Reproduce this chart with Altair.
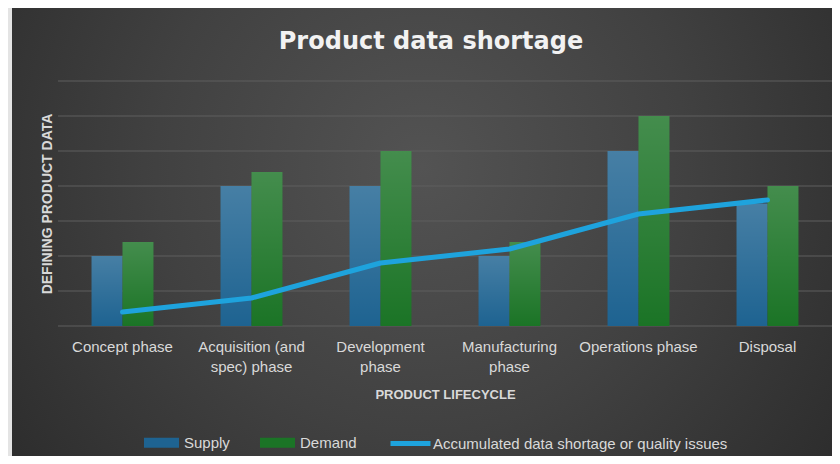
import altair as alt
import pandas as pd

# ---- data ----
categories = ["Concept phase", "Acquisition (and spec) phase", "Development phase",
              "Manufacturing phase", "Operations phase", "Disposal"]
supply = [2, 4, 4, 2, 5, 3.5]
demand = [2.4, 4.4, 5, 2.4, 6, 4]
shortage = [0.4, 0.8, 1.8, 2.2, 3.2, 3.6]
series_names = ["Supply", "Demand"]
line_name = "Accumulated data shortage or quality issues"
grid_values = [0, 1, 2, 3, 4, 5, 6, 7]
wrapped_labels = {
    "Acquisition (and spec) phase": ["Acquisition (and", "spec) phase"],
    "Development phase": ["Development", "phase"],
    "Manufacturing phase": ["Manufacturing", "phase"],
}

bars_df = pd.DataFrame({
    "phase": categories * 2,
    "series": [series_names[0]] * len(categories) + [series_names[1]] * len(categories),
    "value": supply + demand,
})
line_df = pd.DataFrame({"phase": categories, "series": [line_name] * len(categories), "value": shortage})
grid_df = pd.DataFrame({"value": grid_values})
bg_df = pd.DataFrame({"k": [0]})

FONT = "Liberation Sans"
TXT = "#d9d9d9"

label_expr = ""
for k, v in wrapped_labels.items():
    label_expr += "datum.label == '%s' ? ['%s', '%s'] : " % (k, v[0], v[1])
label_expr += "datum.label"

x_enc = alt.X(
    "phase:N", sort=categories,
    scale=alt.Scale(paddingInner=0.52, paddingOuter=0.26),
    axis=alt.Axis(title="PRODUCT LIFECYCLE", domain=False, ticks=False, grid=False,
                  labelAngle=0, labelFont=FONT, labelFontSize=15, labelColor=TXT,
                  labelPadding=13, labelLineHeight=20, labelExpr=label_expr,
                  titleFont=FONT, titleFontSize=13, titleFontWeight="bold", titleColor=TXT,
                  titlePadding=14, minExtent=0, zindex=1),
)
y_enc = alt.Y(
    "value:Q",
    scale=alt.Scale(domain=[0, 7], nice=False),
    axis=alt.Axis(title="DEFINING PRODUCT DATA", labels=False, ticks=False, domain=False,
                  grid=False,
                  titleFont=FONT, titleFontSize=14, titleFontWeight="bold", titleColor=TXT,
                  titlePadding=4, minExtent=0, zindex=1),
)
xoff = alt.XOffset("series:N", sort=series_names, scale=alt.Scale(paddingInner=0, paddingOuter=0))

background = alt.Chart(bg_df).mark_rect(
    fill=alt.RadialGradient(
        gradient="radial", x1=0.5, y1=0.42, r1=0, x2=0.5, y2=0.42, r2=0.72,
        stops=[alt.GradientStop(color="#535353", offset=0),
               alt.GradientStop(color="#414141", offset=0.45),
               alt.GradientStop(color="#262626", offset=1)]),
).encode(x=alt.value(-46), x2=alt.value(774), y=alt.value(-73), y2=alt.value(375))

grid = alt.Chart(grid_df).mark_rule(color="#5e5e5e", strokeWidth=1).encode(y=y_enc)

bars = alt.Chart(bars_df).mark_bar().encode(
    x=x_enc, y=y_enc, xOffset=xoff,
    color=alt.Color("series:N", sort=series_names,
                    scale=alt.Scale(domain=series_names, range=["#1e6391", "#1b7426"]),
                    legend=alt.Legend(title=None, orient="none", direction="horizontal",
                                      legendX=86, legendY=344,
                                      symbolType="M-1,-0.29L1,-0.29L1,0.29L-1,0.29Z",
                                      symbolSize=1225, symbolStrokeWidth=0, symbolOpacity=1,
                                      labelFont=FONT, labelFontSize=15, labelColor=TXT,
                                      labelOffset=5, columnPadding=30)),
)

bar_shine = alt.Chart(bars_df).mark_bar(
    fill=alt.LinearGradient(
        gradient="linear", x1=0, y1=0, x2=0, y2=1,
        stops=[alt.GradientStop(color="rgba(255,255,255,0.18)", offset=0),
               alt.GradientStop(color="rgba(255,255,255,0)", offset=1)]),
).encode(x=x_enc, y=y_enc, xOffset=xoff)

line = alt.Chart(line_df).mark_line(strokeWidth=5, strokeCap="round", strokeJoin="round").encode(
    x=x_enc, y=y_enc,
    stroke=alt.Stroke("series:N",
                      scale=alt.Scale(domain=[line_name], range=["#1ea3dd"]),
                      legend=alt.Legend(title=None, orient="none", direction="horizontal",
                                        legendX=330, legendY=340,
                                        symbolType="stroke", symbolSize=1600, symbolStrokeWidth=5,
                                        labelFont=FONT, labelFontSize=15, labelColor=TXT,
                                        labelOffset=0, labelLimit=400)),
)

chart = alt.layer(background, grid, bars, bar_shine, line).properties(
    width=774, height=245,
    autosize=alt.AutoSizeParams(type="none"),
    padding={"left": 50, "top": 73, "right": 0, "bottom": 130},
    title=alt.Title("Product data shortage", font="DejaVu Sans", fontSize=24, fontWeight="bold",
                    color="#f2f2f2", anchor="middle", dx=-14, offset=26,
                    baseline="alphabetic", dy=91),
).configure(background="#e4e4e4").configure_view(stroke=None)

chart.save("out.html", embed_options={"renderer": "svg", "actions": False})
